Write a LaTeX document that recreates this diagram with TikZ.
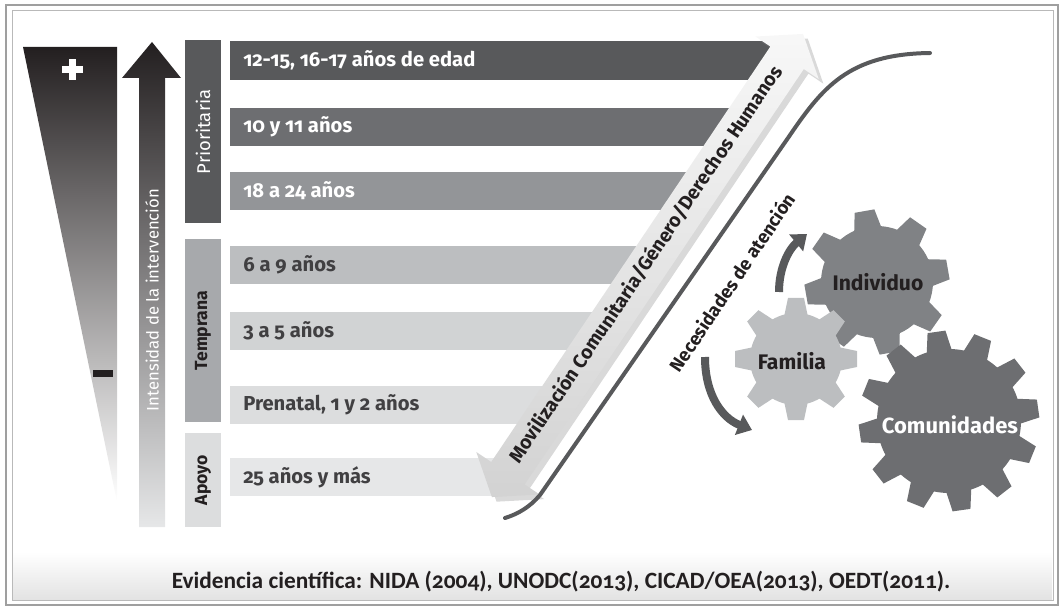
\documentclass[tikz,border=0pt]{standalone}
\usepackage{fontspec}
\setmainfont{Fira Sans}[Numbers=OldStyle]
\newfontfamily\evfont{Carlito}[Numbers=OldStyle]
\usepackage{tikz}
\usetikzlibrary{shapes.arrows, shadows, arrows.meta, positioning}

\definecolor{ink}{HTML}{231F20}
\definecolor{gA}{HTML}{58595B}
\definecolor{gB}{HTML}{6D6E71}
\definecolor{gC}{HTML}{939598}
\definecolor{gD}{HTML}{BCBEC0}
\definecolor{gE}{HTML}{D1D3D4}
\definecolor{gF}{HTML}{DCDDDE}
\definecolor{gG}{HTML}{E6E7E8}
\definecolor{gM}{HTML}{808285}
\definecolor{gT}{HTML}{A7A9AC}
\definecolor{txt}{HTML}{414042}

\newcommand{\pxu}{0.02cm}

% gear: centre, teeth, inner r, outer r, half base, half top, colour, offset
\newcommand{\gearwheel}[8]{%
  \begin{scope}[shift={#1}]
    \fill[#7] (0,0) circle (#3);
    \foreach \k in {1,...,#2}{
      \fill[#7, rotate=\k*360/#2+#8] (-#5,#3-4) -- (-#6,#4) -- (#6,#4) -- (#5,#3-4) -- cycle;
    }
  \end{scope}}

\tikzset{
  catbox/.style={rotate=90, minimum height=36*\pxu, inner sep=0pt},
  agetext/.style={anchor=west, inner sep=0pt, font=\bfseries\fontsize{11.5}{13}\selectfont},
  geartext/.style={font=\bfseries\fontsize{12}{14}\selectfont},
  needline/.style={line width=4*\pxu, draw=gA, line cap=round},
  turn/.style={line width=8*\pxu, draw=gA, -{Triangle[length=8pt,width=12pt]}},
}

\begin{document}
\begin{tikzpicture}[x=\pxu, y=-\pxu]
\useasboundingbox (0,0) rectangle (1063,608);
% frame and source band
\draw[gray!75, line width=2*\pxu] (6,5) rectangle (1058,605);
\draw[gray!55, line width=1*\pxu] (12,11) rectangle (1053,600);
\shade[top color=white, bottom color=gray!22] (13,552) rectangle (1052,599);
\node[font=\evfont\bfseries\fontsize{13.3}{15}\selectfont, text=ink] (src) at (561,582)
  {Evidencia científica: NIDA (2004), UNODC(2013), CICAD/OEA(2013), OEDT(2011).};

% intensity wedge with + and -
\shade[top color=ink, bottom color=white] (23,47) -- (117,47) -- (117,502) -- cycle;
\fill[white] (62,66) rectangle (83,73);
\fill[white] (69,59) rectangle (76,80);
\fill[ink] (93,370) rectangle (113,377);

% intensity arrow
\shade[top color=ink, bottom color=gG] (139,527) -- (139,78) -- (122,78) -- (152,42)
  -- (181,78) -- (165,78) -- (165,527) -- cycle;
\node[rotate=90, text=white, font=\fontsize{9.5}{11}\selectfont] (intens) at (152,300)
  {Intensidad de la intervención};

% categories
\node[catbox, fill=gA, text=white, minimum width=183*\pxu, font=\fontsize{10.5}{12}\selectfont] (prio) at (203,132) {Prioritaria};
\node[catbox, fill=gT, text=ink, minimum width=183*\pxu, font=\bfseries\fontsize{10}{12}\selectfont] (temp) at (203,330.5) {Temprana};
\node[catbox, fill=gF, text=ink, minimum width=94*\pxu, font=\bfseries\fontsize{10}{12}\selectfont] (apoyo) at (203,480) {Apoyo};

% age bars
\fill[gA] (230,41) rectangle (785,80);
\fill[gB] (230,108) rectangle (740,146);
\fill[gC] (230,172) rectangle (697,210);
\fill[gD] (230,246) rectangle (648,284);
\fill[gE] (230,312) rectangle (603,350);
\fill[gF] (230,386) rectangle (554,424);
\fill[gG] (230,458) rectangle (503,496);
\node[agetext, text=white] (age1) at (243,60.5) {12-15, 16-17 años de edad};
\node[agetext, text=white] (age2) at (243,127) {10 y 11 años};
\node[agetext, text=white] (age3) at (243,191) {18 a 24 años};
\node[agetext, text=txt] (age4) at (243,265) {6 a 9 años};
\node[agetext, text=txt] (age5) at (243,331) {3 a 5 años};
\node[agetext, text=txt] (age6) at (243,405) {Prenatal, 1 y 2 años};
\node[agetext, text=txt] (age7) at (243,477) {25 años y más};

% cross-cutting arrow
\node[double arrow, rotate=56.1, minimum height=558*\pxu, inner xsep=2pt, inner ysep=11*\pxu,
  double arrow head extend=18*\pxu, double arrow tip angle=106,
  top color=gray!6, bottom color=gray!35, drop shadow={opacity=0.3},
  text=ink, font=\bfseries\fontsize{11}{13}\selectfont, text height=0.75em, text depth=0.25em]
  (movil) at (647.5,265.5) {Movilización Comunitaria/Género/Derechos Humanos};

% needs curve
\draw[needline] (505,518) .. controls (518,514) and (530,507) .. (540,495) -- (788,138)
  .. controls (822,88) and (848,54) .. (930,53);
\node[rotate=56.1, text=ink, font=\bfseries\fontsize{10.5}{12}\selectfont] (need) at (732,282)
  {Necesidades de atención};

% gears
\gearwheel{(877,282)}{8}{56}{72}{14}{10}{gM}{10}
\gearwheel{(949,421)}{12}{72}{90}{13}{9}{gB}{8}
\gearwheel{(796,359)}{8}{46}{61}{12}{8}{gD}{0}
\node[geartext, text=ink] (indiv) at (878,282) {Individuo};
\node[geartext, text=ink] (fam) at (792,361) {Familia};
\node[geartext, text=white, font=\bfseries\fontsize{12.5}{14}\selectfont] (comun) at (950,425) {Comunidades};

% turning arrows
\draw[turn] (779,292) .. controls (779,266) and (790,248) .. (807,234);
\draw[turn] (705,357) .. controls (705,395) and (722,418) .. (752,430);
\end{tikzpicture}
\end{document}
